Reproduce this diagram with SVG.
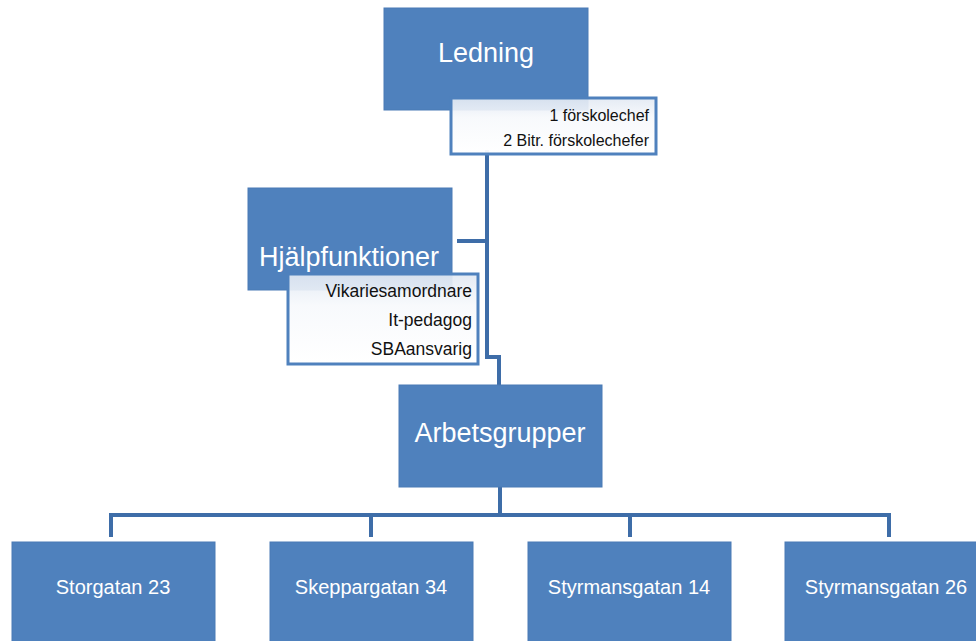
<svg xmlns="http://www.w3.org/2000/svg" width="976" height="641" viewBox="0 0 976 641">
<defs>
<style>
.box{fill:#4F81BD;stroke:#4A7AB5;stroke-width:1}
.big{font-family:"Liberation Sans",Arial,sans-serif;font-size:27px;fill:#fff;text-anchor:middle}
.mid{font-family:"Liberation Sans",Arial,sans-serif;font-size:20px;fill:#fff;text-anchor:middle}
.sub{fill:url(#g);stroke:#4F81BD;stroke-width:3}
.st{font-family:"Liberation Sans",Arial,sans-serif;fill:#111;text-anchor:end}
.c{fill:none;stroke:#3E6DA8;stroke-width:4}
</style>
<linearGradient id="g" x1="0" y1="0" x2="0" y2="1">
<stop offset="0" stop-color="#E2E9F3" stop-opacity="0.92"/>
<stop offset="0.35" stop-color="#F7F9FC" stop-opacity="0.92"/>
<stop offset="1" stop-color="#FFFFFF" stop-opacity="0.95"/>
</linearGradient>
</defs>
<rect width="976" height="641" fill="#fff"/>
<g id="connectors">
<path class="c" d="M487 150 V357 H499 V385"/>
<path class="c" d="M457 241 H487"/>
<path class="c" d="M500 487 V515"/>
<path class="c" d="M111 537 V515 H889 V537"/>
<path class="c" d="M371 515 V537"/>
<path class="c" d="M630 515 V537"/>
</g>
<g id="ledning">
<rect class="box" x="384" y="8" width="204" height="102"/>
<text class="big" x="486" y="62">Ledning</text>
</g>
<g id="ledning-detaljer">
<rect class="sub" x="451" y="98" width="205" height="56"/>
<text class="st" x="649" y="121" font-size="16">1 förskolechef</text>
<text class="st" x="649" y="146" font-size="16">2 Bitr. förskolechefer</text>
</g>
<g id="hjalpfunktioner">
<rect class="box" x="248" y="188" width="204" height="102"/>
<text class="big" x="349" y="266" font-size="28.5">Hjälpfunktioner</text>
</g>
<g id="hjalp-detaljer">
<rect class="sub" x="288" y="274" width="190" height="90"/>
<text class="st" x="472" y="297" font-size="17.5">Vikariesamordnare</text>
<text class="st" x="472" y="326" font-size="17.5">It-pedagog</text>
<text class="st" x="472" y="355" font-size="17.5">SBAansvarig</text>
</g>
<g id="arbetsgrupper">
<rect class="box" x="399" y="385" width="203" height="102"/>
<text class="big" x="500" y="442" font-size="28.5">Arbetsgrupper</text>
</g>
<g id="storgatan23">
<rect class="box" x="12" y="542" width="203" height="110"/>
<text class="mid" x="113" y="594">Storgatan 23</text>
</g>
<g id="skeppargatan34">
<rect class="box" x="270" y="542" width="203" height="110"/>
<text class="mid" x="371" y="594">Skeppargatan 34</text>
</g>
<g id="styrmansgatan14">
<rect class="box" x="528" y="542" width="203" height="110"/>
<text class="mid" x="629" y="594">Styrmansgatan 14</text>
</g>
<g id="styrmansgatan26">
<rect class="box" x="785" y="542" width="203" height="110"/>
<text class="mid" x="886" y="594">Styrmansgatan 26</text>
</g>
</svg>
